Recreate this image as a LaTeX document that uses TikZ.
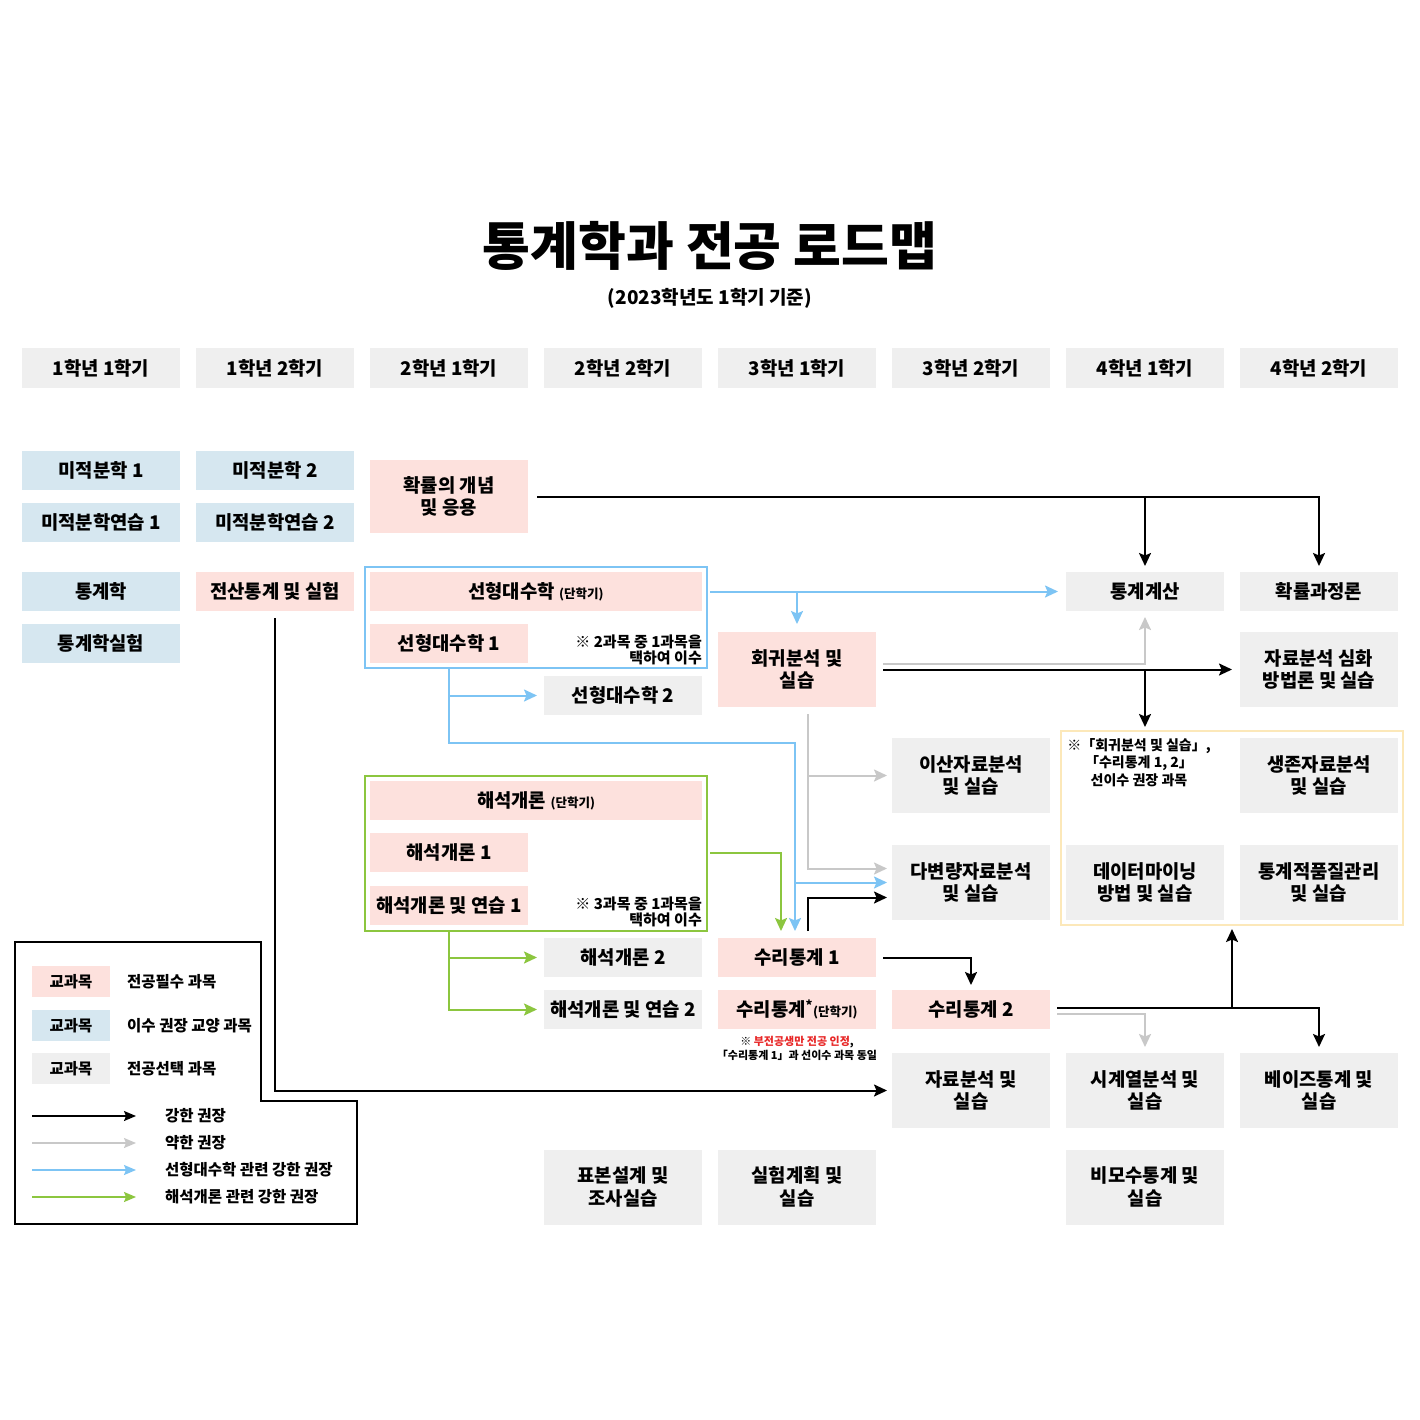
\documentclass[tikz,border=0pt]{standalone}
\usepackage{fontspec}
\setmainfont{Noto Sans CJK KR}
\usetikzlibrary{arrows.meta,calc}
\definecolor{pk}{RGB}{253,225,221}
\definecolor{bl}{RGB}{214,231,240}
\definecolor{gy}{RGB}{239,239,239}
\definecolor{lb}{RGB}{125,196,244}
\definecolor{lg}{RGB}{140,198,63}
\definecolor{ag}{RGB}{200,200,200}
\definecolor{yf}{RGB}{252,232,185}
\definecolor{rd}{RGB}{232,40,40}
\begin{document}
\begin{tikzpicture}[x=1pt,y=-1pt,
  box/.style={inner sep=0pt, outer sep=0pt, minimum width=158pt, minimum height=39pt, align=center, font=\fontsize{18.8}{22.5}\selectfont\bfseries},
  tall/.style={box, minimum height=75pt},
  wide/.style={box, minimum width=332pt},
  req/.style={fill=pk},
  lib/.style={fill=bl},
  elc/.style={fill=gy},
  frame/.style={inner sep=0pt, outer sep=0pt, line width=2pt},
  note/.style={inner sep=0pt, align=right, font=\fontsize{15}{16}\selectfont\bfseries},
  tip/.style={-{Stealth[length=13pt,width=12pt,inset=2.5pt]}},
  blk/.style={tip, draw=black, line width=2pt},
  gry/.style={tip, draw=ag, line width=2pt},
  blu/.style={tip, draw=lb, line width=2pt},
  grn/.style={tip, draw=lg, line width=2pt},
  lgbox/.style={inner sep=0pt, minimum width=78pt, minimum height=31pt, font=\fontsize{15.5}{17}\selectfont\bfseries},
  lgtxt/.style={inner sep=0pt, anchor=west, font=\fontsize{15.5}{17}\selectfont\bfseries},
  lgarr/.style={line width=1.5pt, -{Stealth[length=12pt,width=10pt,inset=2pt]}}
]
\newcommand{\dan}{{\fontsize{12.5}{14}\selectfont(단학기)}}
\fill[white] (0,0) rectangle (1420,1420);
\useasboundingbox (0,0) rectangle (1420,1420);

% title
\node[font=\fontsize{52}{56}\selectfont\bfseries, inner sep=0pt] (title) at (710,246) {통계학과 전공 로드맵};
\node[font=\fontsize{19}{22}\selectfont\bfseries, inner sep=0pt] (sub) at (710,298) {(2023학년도 1학기 기준)};

% headers
\node[box,elc,minimum height=40pt] (h1) at (101,368) {1학년 1학기};
\node[box,elc,minimum height=40pt] (h2) at (275,368) {1학년 2학기};
\node[box,elc,minimum height=40pt] (h3) at (449,368) {2학년 1학기};
\node[box,elc,minimum height=40pt] (h4) at (623,368) {2학년 2학기};
\node[box,elc,minimum height=40pt] (h5) at (797,368) {3학년 1학기};
\node[box,elc,minimum height=40pt] (h6) at (971,368) {3학년 2학기};
\node[box,elc,minimum height=40pt] (h7) at (1145,368) {4학년 1학기};
\node[box,elc,minimum height=40pt] (h8) at (1319,368) {4학년 2학기};

% frames
\node[frame, draw=lb, minimum width=342pt, minimum height=101pt] (bluefr) at (536,617.5) {};
\node[frame, draw=lg, minimum width=342pt, minimum height=155pt] (grnfr) at (536,853.5) {};
\node[frame, draw=yf, line width=1.5pt, minimum width=342pt, minimum height=194pt] (yelfr) at (1232,828) {};

% courses
\node[box,lib] (mj1) at (101,470.5) {미적분학 1};
\node[box,lib] (mjy1) at (101,522.5) {미적분학연습 1};
\node[box,lib] (mj2) at (275,470.5) {미적분학 2};
\node[box,lib] (mjy2) at (275,522.5) {미적분학연습 2};
\node[box,req,minimum height=73pt] (prob) at (449,496.5) {확률의 개념\\및 응용};
\node[box,lib] (tg) at (101,591.5) {통계학};
\node[box,lib] (tgs) at (101,643.5) {통계학실험};
\node[box,req] (jsan) at (275,591.5) {전산통계 및 실험};
\node[wide,req] (linS) at (536,591.5) {선형대수학 \dan};
\node[box,req] (lin1) at (449,643.5) {선형대수학 1};
\node[box,elc] (lin2) at (623,695.5) {선형대수학 2};
\node[tall,req] (hoe) at (797,669.5) {회귀분석 및\\실습};
\node[box,elc] (stc) at (1145,591.5) {통계계산};
\node[box,elc] (prc) at (1319,591.5) {확률과정론};
\node[tall,elc] (adv) at (1319,669.5) {자료분석 심화\\방법론 및 실습};
\node[tall,elc] (isan) at (971,775.5) {이산자료분석\\및 실습};
\node[tall,elc] (surv) at (1319,775.5) {생존자료분석\\및 실습};
\node[tall,elc] (dab) at (971,882.5) {다변량자료분석\\및 실습};
\node[tall,elc] (dm) at (1145,882.5) {데이터마이닝\\방법 및 실습};
\node[tall,elc] (qc) at (1319,882.5) {통계적품질관리\\및 실습};
\node[wide,req] (anS) at (536,800.5) {해석개론 \dan};
\node[box,req] (an1) at (449,852.5) {해석개론 1};
\node[box,req] (ane1) at (449,905.5) {해석개론 및 연습 1};
\node[box,elc] (an2) at (623,957.5) {해석개론 2};
\node[box,elc] (ane2) at (623,1009.5) {해석개론 및 연습 2};
\node[box,req] (ms1) at (797,957.5) {수리통계 1};
\node[box,req] (msS) at (797,1009.5) {수리통계\textsuperscript{*}\dan};
\node[box,req] (ms2) at (971,1009.5) {수리통계 2};
\node[tall,elc] (jab) at (971,1090.5) {자료분석 및\\실습};
\node[tall,elc] (ts) at (1145,1090.5) {시계열분석 및\\실습};
\node[tall,elc] (bay) at (1319,1090.5) {베이즈통계 및\\실습};
\node[tall,elc] (pyo) at (623,1187) {표본설계 및\\조사실습};
\node[tall,elc] (expd) at (797,1187) {실험계획 및\\실습};
\node[tall,elc] (np) at (1145,1187) {비모수통계 및\\실습};

% notes
\node[note, anchor=east] (n1) at (702,650) {※ 2과목 중 1과목을\\택하여 이수};
\node[note, anchor=east] (n2) at (702,911.5) {※ 3과목 중 1과목을\\택하여 이수};
\node[note, align=center, anchor=north, font=\fontsize{14}{17.5}\selectfont\bfseries] (n3) at (1139,738) {※「회귀분석 및 실습」,\\「수리통계 1, 2」\\선이수 권장 과목};
\node[note, align=center, font=\fontsize{11}{14}\selectfont\bfseries] (n4) at (797,1048) {※ \textcolor{rd}{부전공생만 전공 인정},\\「수리통계 1」과 선이수 과목 동일};

% connectors
\coordinate (bj) at (795,743);
\coordinate (gv) at (808,714);
\coordinate (m2r) at ($(ms2.east)+(0,-2)$);

\draw[blk, shorten <=9pt, shorten >=6pt] (prob.east) -| (prc.north);
\draw[blk, shorten >=6pt] (prob.east -| stc.north) -- (stc.north);
\draw[blk, shorten <=7pt, shorten >=5pt] (jsan.south) |- (jab.west);
\draw[blu, shorten <=3pt, shorten >=8pt] (bluefr.east |- linS.center) -- (stc.west);
\draw[blu, shorten >=8pt] (hoe.north |- linS.center) -- (hoe.north);
\draw[blu, shorten >=7pt] (lin1.south |- bluefr.south) |- (lin2.west);
\draw[blu, shorten >=7pt] (lin1.south |- bluefr.south) |- (bj) -- (bj |- ms1.north);
\draw[blu, shorten >=5pt] (bj |- dab.west) -- (dab.west);
\draw[gry, shorten >=5pt] (gv) |- ($(dab.west)+(0,-14)$);
\draw[gry, shorten >=5pt] (gv |- isan.west) -- (isan.west);
\draw[blk, shorten >=5pt] ($(ms1.north -| gv)+(0,-7)$) |- ($(dab.west)+(0,15)$);
\draw[grn, shorten <=3pt, shorten >=7pt] (grnfr.east |- an1.center) -| ($(ms1.north)+(-16,0)$);
\draw[grn, shorten >=7pt] (an1.south |- grnfr.south) |- (an2.west);
\draw[grn, shorten >=7pt] (an1.south |- grnfr.south) |- (ane2.west);
\draw[gry, shorten <=7pt, shorten >=6pt] ($(hoe.east)+(0,-6)$) -| (stc.south);
\draw[blk, shorten <=7pt, shorten >=8pt] (hoe.east) -- (adv.west);
\draw[blk, shorten >=4pt] (hoe.east -| stc.north) -- (stc.north |- yelfr.north);
\draw[blk, shorten <=7pt, shorten >=5pt] (ms1.east) -| (ms2.north);
\draw[blk, shorten <=7pt, shorten >=6pt] (m2r) -| (bay.north);
\draw[blk, shorten >=4pt] (yelfr.south |- m2r) -- (yelfr.south);
\draw[gry, shorten <=7pt, shorten >=6pt] ($(ms2.east)+(0,4)$) -| (ts.north);

% legend
\draw[line width=2.5pt] (15,942) -- (261,942) -- (261,1101) -- (357,1101) -- (357,1224) -- (15,1224) -- cycle;
\node[lgbox, fill=pk] (lg1) at (71,981.5) {교과목};
\node[lgbox, fill=bl] (lg2) at (71,1025.5) {교과목};
\node[lgbox, fill=gy] (lg3) at (71,1068.5) {교과목};
\node[lgtxt] (lt1) at (127,981.5) {전공필수 과목};
\node[lgtxt] (lt2) at (127,1025.5) {이수 권장 교양 과목};
\node[lgtxt] (lt3) at (127,1068.5) {전공선택 과목};
\coordinate (la1) at (32,1116); \coordinate (lb1) at (136,1116);
\coordinate (la2) at (32,1143); \coordinate (lb2) at (136,1143);
\coordinate (la3) at (32,1170); \coordinate (lb3) at (136,1170);
\coordinate (la4) at (32,1197); \coordinate (lb4) at (136,1197);
\draw[lgarr, draw=black] (la1) -- (lb1);
\draw[lgarr, draw=ag] (la2) -- (lb2);
\draw[lgarr, draw=lb] (la3) -- (lb3);
\draw[lgarr, draw=lg] (la4) -- (lb4);
\node[lgtxt] (lt4) at (165,1116) {강한 권장};
\node[lgtxt] (lt5) at (165,1143) {약한 권장};
\node[lgtxt] (lt6) at (165,1170) {선형대수학 관련 강한 권장};
\node[lgtxt] (lt7) at (165,1197) {해석개론 관련 강한 권장};
\end{tikzpicture}
\end{document}
